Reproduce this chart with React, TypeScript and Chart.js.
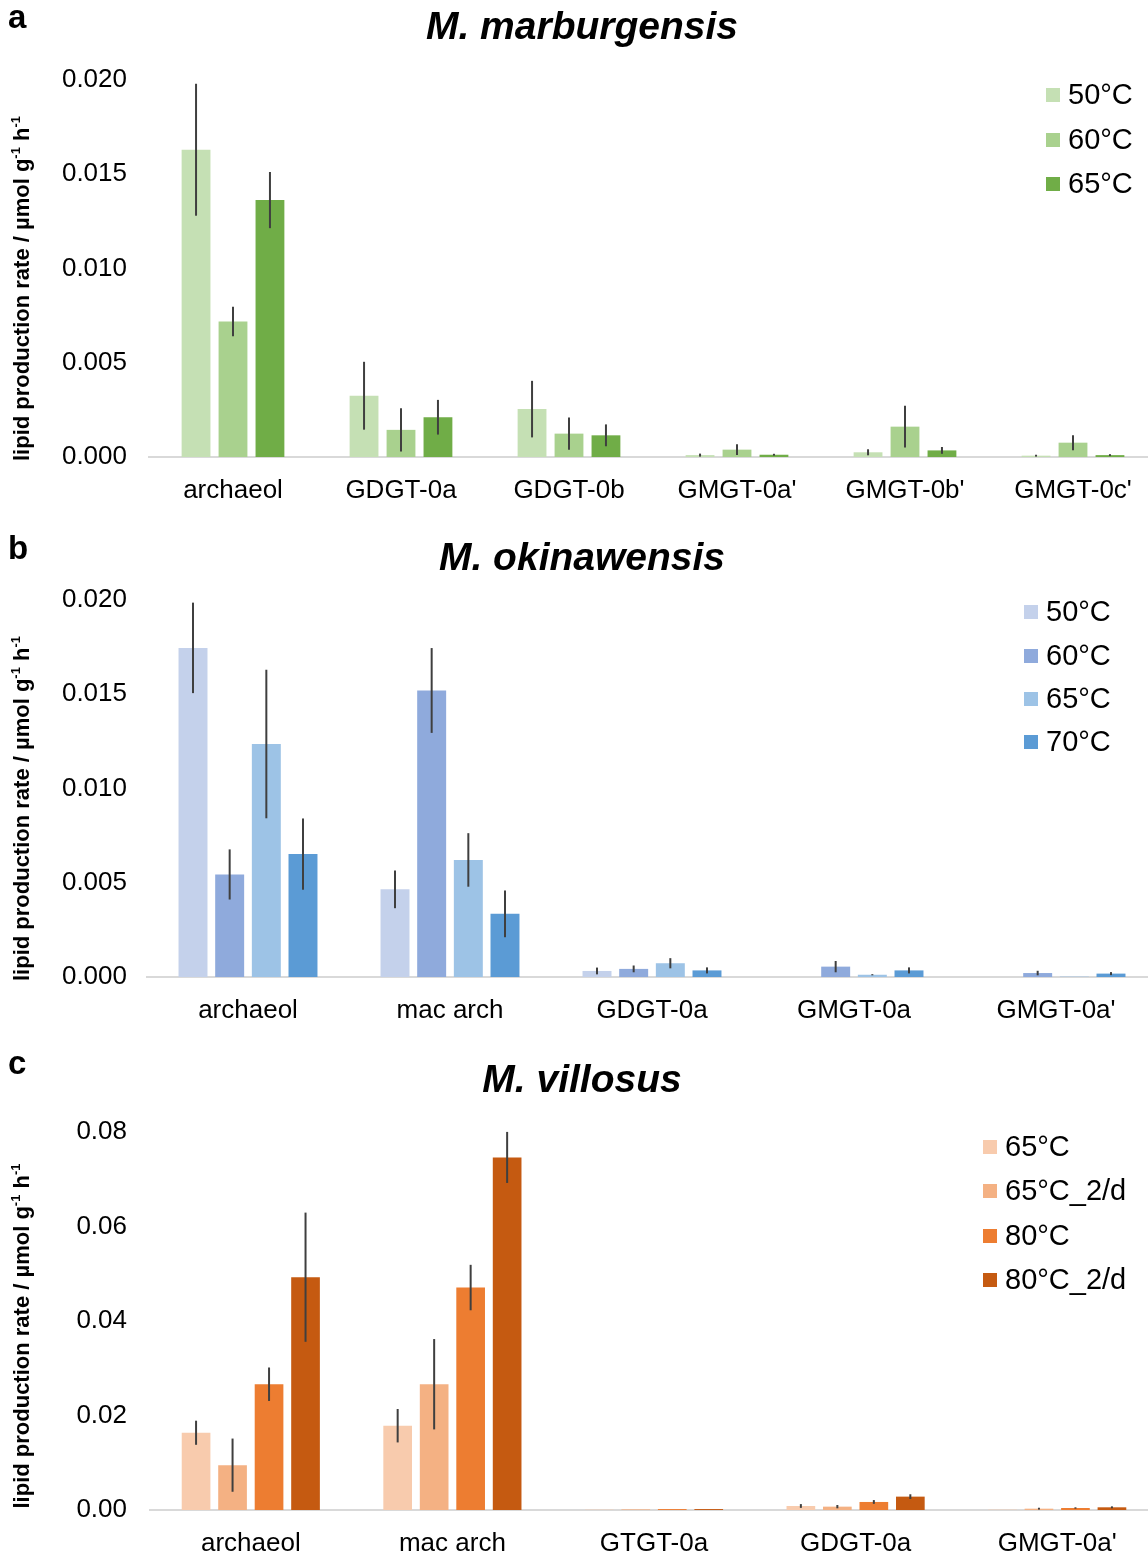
import React, { useEffect, useRef } from "react";
import { Chart, registerables } from "chart.js";

Chart.register(...registerables);

const FONT = '"Liberation Sans", Arial, Helvetica, sans-serif';

// ---------- Panel a: M. marburgensis ----------
const catsA = ["archaeol", "GDGT-0a", "GDGT-0b", "GMGT-0a'", "GMGT-0b'", "GMGT-0c'"];
const seriesA = ["50°C", "60°C", "65°C"];
const a50 = [0.0163, 0.00325, 0.00254, 0.0001, 0.00025, 0.00007];
const a50err = [0.0035, 0.0018, 0.0015, 0.00008, 0.00016, 0.00005];
const a60 = [0.00719, 0.00144, 0.00124, 0.00039, 0.00161, 0.00076];
const a60err = [0.00078, 0.00115, 0.00086, 0.00028, 0.00111, 0.0004];
const a65 = [0.01363, 0.00211, 0.00115, 0.00012, 0.00035, 0.0001];
const a65err = [0.00149, 0.00092, 0.00058, 0.00005, 0.00018, 0.00005];
const colorsA = ["#C5E0B4", "#A9D18E", "#70AD47"];
const ticksA = ["0.000", "0.005", "0.010", "0.015", "0.020"];

// ---------- Panel b: M. okinawensis ----------
const catsB = ["archaeol", "mac arch", "GDGT-0a", "GMGT-0a", "GMGT-0a'"];
const seriesB = ["50°C", "60°C", "65°C", "70°C"];
const b50 = [0.01746, 0.00465, 0.00032, 0, 0];
const b50err = [0.0024, 0.001, 0.00018, 0, 0];
const b60 = [0.00544, 0.0152, 0.00043, 0.00055, 0.00021];
const b60err = [0.00133, 0.00225, 0.00018, 0.0003, 0.00012];
const b65 = [0.01236, 0.00621, 0.00073, 0.00012, 0.00002];
const b65err = [0.00394, 0.00142, 0.00027, 0.00003, 0];
const b70 = [0.00652, 0.00335, 0.00035, 0.00035, 0.00018];
const b70err = [0.00189, 0.00124, 0.00016, 0.00016, 0.00008];
const colorsB = ["#C4D1EB", "#8FAADC", "#9DC3E6", "#5B9BD5"];
const ticksB = ["0.000", "0.005", "0.010", "0.015", "0.020"];

// ---------- Panel c: M. villosus ----------
const catsC = ["archaeol", "mac arch", "GTGT-0a", "GDGT-0a", "GMGT-0a'"];
const seriesC = ["65°C", "65°C_2/d", "80°C", "80°C_2/d"];
const c65 = [0.01635, 0.01784, 0.00007, 0.00085, 0.00007];
const c65err = [0.00255, 0.00354, 0, 0.0004, 0];
const c65d = [0.00949, 0.02662, 0.00014, 0.00071, 0.00028];
const c65derr = [0.00563, 0.00956, 0, 0.00035, 0.0002];
const c80 = [0.02662, 0.04708, 0.0002, 0.0017, 0.00042];
const c80err = [0.00354, 0.00481, 0, 0.0004, 0.00015];
const c80d = [0.04927, 0.07462, 0.0002, 0.00283, 0.00057];
const c80derr = [0.01367, 0.0054, 0, 0.0005, 0.0002];
const colorsC = ["#F8CBAD", "#F4B183", "#ED7D31", "#C55A11"];
const ticksC = ["0.00", "0.02", "0.04", "0.06", "0.08"];

type Panel = {
  letter: string;
  title: string;
  cats: string[];
  series: string[];
  values: number[][];
  errors: number[][];
  colors: string[];
  tickLabels: string[];
  layout: {
    top: number;
    height: number;
    padTop: number;
    padRight: number;
    yW: number;
    xH: number;
    tickPad: number;
    catPct: number;
    barPct: number;
    titleY: number;
    letterY: number;
    ylabelShift: number;
    legendSqX: number;
    legendTxtX: number;
    legendY: number[];
  };
};

const panels: Panel[] = [
  {
    letter: "a",
    title: "M. marburgensis",
    cats: catsA,
    series: seriesA,
    values: [a50, a60, a65],
    errors: [a50err, a60err, a65err],
    colors: colorsA,
    tickLabels: ticksA,
    layout: {
      top: 0, height: 515, padTop: 80, padRight: 3, yW: 149, xH: 58, tickPad: 22,
      catPct: 0.66, barPct: 0.78, titleY: 39, letterY: 28, ylabelShift: 20,
      legendSqX: 1046, legendTxtX: 1068, legendY: [95, 140, 184],
    },
  },
  {
    letter: "b",
    title: "M. okinawensis",
    cats: catsB,
    series: seriesB,
    values: [b50, b60, b65, b70],
    errors: [b50err, b60err, b65err, b70err],
    colors: colorsB,
    tickLabels: ticksB,
    layout: {
      top: 515, height: 530, padTop: 85, padRight: 3, yW: 147, xH: 68, tickPad: 20,
      catPct: 0.726, barPct: 0.79, titleY: 55, letterY: 44, ylabelShift: 20,
      legendSqX: 1024, legendTxtX: 1046, legendY: [97, 141, 184, 227],
    },
  },
  {
    letter: "c",
    title: "M. villosus",
    cats: catsC,
    series: seriesC,
    values: [c65, c65d, c80, c80d],
    errors: [c65err, c65derr, c80err, c80derr],
    colors: colorsC,
    tickLabels: ticksC,
    layout: {
      top: 1045, height: 512, padTop: 87, padRight: 2, yW: 150, xH: 47, tickPad: 23,
      catPct: 0.724, barPct: 0.786, titleY: 47, letterY: 29, ylabelShift: 15,
      legendSqX: 983, legendTxtX: 1005, legendY: [102, 146, 191, 235],
    },
  },
];

function drawYLabel(ctx: CanvasRenderingContext2D, x: number, cy: number) {
  const parts: [string, boolean][] = [
    ["lipid production rate / µmol g", false],
    ["-1", true],
    [" h", false],
    ["-1", true],
  ];
  const big = `bold 22px ${FONT}`;
  const small = `bold 13px ${FONT}`;
  let total = 0;
  const widths: number[] = [];
  for (const [t, sup] of parts) {
    ctx.font = sup ? small : big;
    const w = ctx.measureText(t).width;
    widths.push(w);
    total += w;
  }
  ctx.save();
  ctx.translate(x, cy);
  ctx.rotate(-Math.PI / 2);
  ctx.fillStyle = "#000";
  ctx.textBaseline = "alphabetic";
  ctx.textAlign = "left";
  let px = -total / 2;
  parts.forEach(([t, sup], i) => {
    ctx.font = sup ? small : big;
    ctx.fillText(t, px, sup ? -9 : 0);
    px += widths[i];
  });
  ctx.restore();
}

function ChartPanel({ p }: { p: Panel }) {
  const ref = useRef<HTMLCanvasElement | null>(null);
  useEffect(() => {
    if (!ref.current) return;
    const L = p.layout;
    const maxVal = parseFloat(p.tickLabels[p.tickLabels.length - 1]);
    const step = parseFloat(p.tickLabels[1]) - parseFloat(p.tickLabels[0]);
    const decimals = p.tickLabels[0].split(".")[1].length;

    const overlay = {
      id: "overlay",
      afterDatasetsDraw(chart: any) {
        const ctx = chart.ctx as CanvasRenderingContext2D;
        const ys = chart.scales.y;
        chart.data.datasets.forEach((ds: any, i: number) => {
          const meta = chart.getDatasetMeta(i);
          meta.data.forEach((el: any, j: number) => {
            const v = ds.data[j];
            const e = ds.errors[j];
            if (!e) return;
            ctx.save();
            ctx.strokeStyle = "#3F3F3F";
            ctx.lineWidth = 2;
            ctx.beginPath();
            ctx.moveTo(el.x, ys.getPixelForValue(v + e));
            ctx.lineTo(el.x, ys.getPixelForValue(Math.max(0, v - e)));
            ctx.stroke();
            ctx.restore();
          });
        });
      },
      afterDraw(chart: any) {
        const ctx = chart.ctx as CanvasRenderingContext2D;
        const area = chart.chartArea;
        ctx.save();
        ctx.fillStyle = "#000";
        ctx.font = `bold 33px ${FONT}`;
        ctx.textAlign = "left";
        ctx.textBaseline = "alphabetic";
        ctx.fillText(p.letter, 8, L.letterY);
        ctx.font = `italic bold 39px ${FONT}`;
        ctx.textAlign = "center";
        ctx.fillText(p.title, 582, L.titleY);
        ctx.restore();
        drawYLabel(ctx, 29, (area.top + area.bottom) / 2 + L.ylabelShift);
        ctx.save();
        ctx.font = `29px ${FONT}`;
        ctx.textAlign = "left";
        ctx.textBaseline = "middle";
        p.series.forEach((s, i) => {
          const y = L.legendY[i];
          ctx.fillStyle = p.colors[i];
          ctx.fillRect(L.legendSqX, y - 7, 14, 14);
          ctx.fillStyle = "#000";
          ctx.fillText(s, L.legendTxtX, y + 1);
        });
        ctx.restore();
      },
    };

    const chart = new Chart(ref.current, {
      type: "bar",
      data: {
        labels: p.cats,
        datasets: p.series.map((s, i) => ({
          label: s,
          data: p.values[i],
          errors: p.errors[i],
          backgroundColor: p.colors[i],
          borderWidth: 0,
          categoryPercentage: L.catPct,
          barPercentage: L.barPct,
        })) as any,
      },
      options: {
        responsive: false,
        animation: false,
        layout: { padding: { top: L.padTop, right: L.padRight, left: 0, bottom: 0 } },
        plugins: {
          legend: { display: false },
          tooltip: { enabled: false },
          title: { display: false },
        },
        scales: {
          x: {
            grid: { display: false, drawTicks: false },
            border: { display: true, color: "#D9D9D9", width: 2 },
            ticks: {
              color: "#000",
              font: { family: FONT, size: 26 },
              padding: 18,
              maxRotation: 0,
              autoSkip: false,
            },
            afterFit: (s: any) => {
              s.height = L.xH;
            },
          },
          y: {
            min: 0,
            max: maxVal,
            grid: { display: false, drawTicks: false },
            border: { display: false },
            ticks: {
              stepSize: step,
              color: "#000",
              font: { family: FONT, size: 26 },
              padding: L.tickPad,
              callback: (v: any) => Number(v).toFixed(decimals),
            },
            afterFit: (s: any) => {
              s.width = L.yW;
            },
          },
        },
      },
      plugins: [overlay],
    });
    return () => chart.destroy();
  }, [p]);

  return (
    <canvas
      ref={ref}
      width={1160}
      height={p.layout.height}
      style={{
        position: "absolute",
        left: 0,
        top: p.layout.top,
        width: 1160,
        height: p.layout.height,
      }}
    />
  );
}

export default function App() {
  return (
    <div
      style={{
        position: "fixed",
        left: 0,
        top: 0,
        width: 1148,
        height: 1557,
        overflow: "hidden",
        background: "#fff",
      }}
    >
      {panels.map((p) => (
        <ChartPanel key={p.letter} p={p} />
      ))}
    </div>
  );
}
